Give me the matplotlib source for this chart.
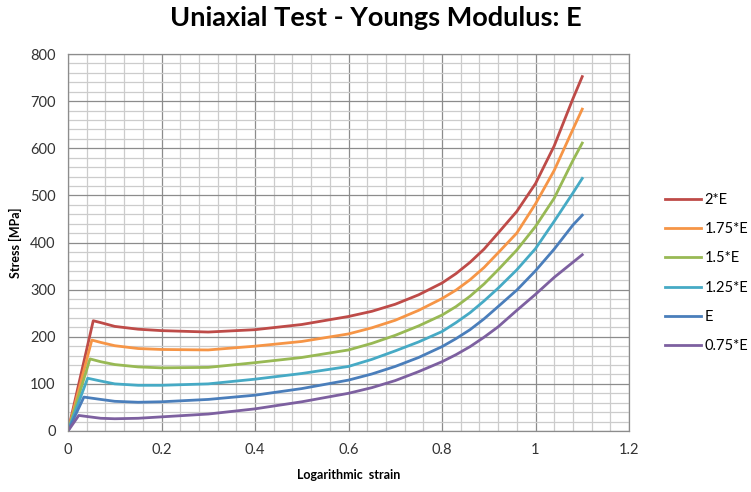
import matplotlib
matplotlib.use('Agg')
import matplotlib.pyplot as plt
from matplotlib.ticker import MultipleLocator

# Post-yield strain grid shared by all curves
strain = [0.07, 0.1, 0.15, 0.2, 0.3, 0.4, 0.5, 0.6, 0.65, 0.7, 0.75, 0.8, 0.83, 0.86, 0.89,
          0.92, 0.96, 1.0, 1.04, 1.08, 1.1]

labels = ['2*E', '1.75*E', '1.5*E', '1.25*E', 'E', '0.75*E']
colors = ['#BE4B48', '#F69546', '#98B954', '#46AAC5', '#4A7EBB', '#7D60A0']

# yield point (end of the linear elastic part) for each curve
peak_strain = [0.054, 0.051, 0.047, 0.042, 0.034, 0.023]
peak_stress = [234, 193, 153, 112, 72, 33]

stress_2E = [230, 222, 216, 213, 210, 215, 226, 243, 254, 269, 289, 314, 334, 358, 386,
             420, 466, 525, 605, 705, 752]
stress_175E = [188, 181, 175, 173, 172, 180, 190, 206, 219, 235, 256, 281, 299, 321, 347,
               378, 420, 482, 553, 640, 683]
stress_15E = [147, 141, 136, 134, 135, 145, 156, 172, 186, 203, 223, 246, 264, 286, 312,
              342, 384, 434, 494, 574, 611]
stress_125E = [106, 100, 97, 97, 100, 110, 122, 137, 152, 170, 189, 211, 230, 251, 276,
               303, 342, 387, 445, 505, 536]
stress_E = [67, 63, 61, 62, 67, 76, 90, 108, 121, 137, 156, 179, 196, 215, 238,
            264, 299, 340, 386, 437, 458]
stress_075E = [27, 26, 27, 30, 36, 47, 62, 80, 92, 107, 126, 147, 162, 179, 199,
               221, 256, 290, 326, 358, 374]

series = [stress_2E, stress_175E, stress_15E, stress_125E, stress_E, stress_075E]

xticks = [0, 0.2, 0.4, 0.6, 0.8, 1.0, 1.2]
xtick_labels = ['0', '0.2', '0.4', '0.6', '0.8', '1', '1.2']

plt.rcParams['font.family'] = ['Lato', 'DejaVu Sans']

fig = plt.figure(figsize=(7.51, 4.92), dpi=100)
ax = fig.add_axes([68 / 751, 1 - 431 / 492, (629 - 68) / 751, (431 - 54) / 492])

for lab, col, ps, pv, ys in zip(labels, colors, peak_strain, peak_stress, series):
    xs = [0, ps] + strain
    yv = [0, pv] + ys
    ax.plot(xs, yv, color=col, lw=2.0, label=lab, solid_joinstyle='round')

ax.set_xlim(0, 1.2)
ax.set_ylim(0, 800)
ax.set_xticks(xticks)
ax.set_xticklabels(xtick_labels)
ax.xaxis.set_minor_locator(MultipleLocator(0.04))
ax.yaxis.set_major_locator(MultipleLocator(100))
ax.yaxis.set_minor_locator(MultipleLocator(20))

ax.grid(which='major', color='#8c8c8c', lw=0.9)
ax.grid(which='minor', color='#cccccc', lw=0.9)
ax.set_axisbelow(True)
for s in ax.spines.values():
    s.set_color('#8c8c8c')
    s.set_linewidth(0.9)
ax.tick_params(which='both', length=0, labelsize=10.5, colors='#333333', pad=9)

ax.set_xlabel('Logarithmic  strain', fontsize=9, fontweight='bold', labelpad=8)
ax.set_ylabel('Stress [MPa]', fontsize=9, fontweight='bold', labelpad=6)

fig.suptitle('Uniaxial Test - Youngs Modulus: E', fontsize=19.5, fontweight='bold',
             x=376 / 751, y=1 - 18 / 492, va='center')

fig.legend(loc='center left', bbox_to_anchor=(665 / 751, 1 - 273 / 492), frameon=False,
           fontsize=10.5, handlelength=2.5, handletextpad=0.2, labelspacing=1.05,
           borderpad=0, borderaxespad=0)

fig.savefig('out.png', dpi=100)
